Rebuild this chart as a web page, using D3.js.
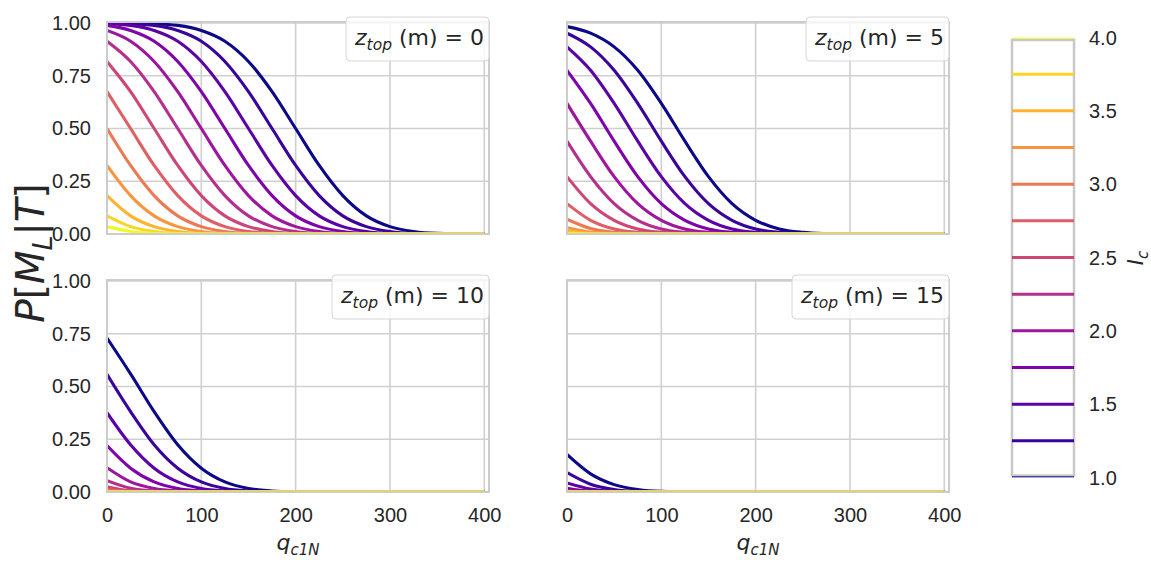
<!DOCTYPE html>
<html>
<head>
<meta charset="utf-8">
<script src="https://cdn.jsdelivr.net/npm/d3@7/dist/d3.min.js"></script>
<style>
  body { margin: 0; background: #fff; }
  svg { font-family: "Liberation Sans", Arial, sans-serif; }
  .math { font-family: "DejaVu Sans", sans-serif; font-style: italic; }
</style>
</head>
<body>
<svg width="1151" height="562"></svg>
<script>
// q_c1N sample points shared by every curve
var qGrid = [0, 25, 50, 75, 100, 125, 150, 175, 200, 225, 250, 275, 300, 325, 350, 375, 400];
var icLevels = [1.0, 1.25, 1.5, 1.75, 2.0, 2.25, 2.5, 2.75, 3.0, 3.25, 3.5, 3.75, 4.0];
var zTop = [0, 5, 10, 15];
var xTicks = [0, 100, 200, 300, 400];
var yTicks = [0, 0.25, 0.5, 0.75, 1.0];
var cbTicks = [1.0, 1.5, 2.0, 2.5, 3.0, 3.5, 4.0];

// P[M_L|T], one row per I_c level
var pZ0 = [
  [1.000, 0.999, 0.997, 0.989, 0.965, 0.914, 0.818, 0.675, 0.500, 0.325, 0.182, 0.086, 0.035, 0.012, 0.003, 0.001, 0],
  [0.999, 0.997, 0.989, 0.965, 0.914, 0.818, 0.675, 0.500, 0.325, 0.182, 0.086, 0.035, 0.012, 0.003, 0.001, 0, 0],
  [0.997, 0.989, 0.965, 0.914, 0.818, 0.675, 0.500, 0.325, 0.182, 0.086, 0.035, 0.012, 0.003, 0.001, 0, 0, 0],
  [0.989, 0.965, 0.914, 0.818, 0.675, 0.500, 0.325, 0.182, 0.086, 0.035, 0.012, 0.003, 0.001, 0, 0, 0, 0],
  [0.965, 0.914, 0.818, 0.675, 0.500, 0.325, 0.182, 0.086, 0.035, 0.012, 0.003, 0.001, 0, 0, 0, 0, 0],
  [0.914, 0.818, 0.675, 0.500, 0.325, 0.182, 0.086, 0.035, 0.012, 0.003, 0.001, 0, 0, 0, 0, 0, 0],
  [0.818, 0.675, 0.500, 0.325, 0.182, 0.086, 0.035, 0.012, 0.003, 0.001, 0, 0, 0, 0, 0, 0, 0],
  [0.675, 0.500, 0.325, 0.182, 0.086, 0.035, 0.012, 0.003, 0.001, 0, 0, 0, 0, 0, 0, 0, 0],
  [0.500, 0.325, 0.182, 0.086, 0.035, 0.012, 0.003, 0.001, 0, 0, 0, 0, 0, 0, 0, 0, 0],
  [0.325, 0.182, 0.086, 0.035, 0.012, 0.003, 0.001, 0, 0, 0, 0, 0, 0, 0, 0, 0, 0],
  [0.182, 0.086, 0.035, 0.012, 0.003, 0.001, 0, 0, 0, 0, 0, 0, 0, 0, 0, 0, 0],
  [0.086, 0.035, 0.012, 0.003, 0.001, 0, 0, 0, 0, 0, 0, 0, 0, 0, 0, 0, 0],
  [0.035, 0.012, 0.003, 0.001, 0, 0, 0, 0, 0, 0, 0, 0, 0, 0, 0, 0, 0]
];
var pZ5 = [
  [0.983, 0.952, 0.887, 0.776, 0.619, 0.440, 0.272, 0.144, 0.065, 0.024, 0.008, 0.002, 0, 0, 0, 0, 0],
  [0.952, 0.887, 0.776, 0.619, 0.440, 0.272, 0.144, 0.065, 0.024, 0.008, 0.002, 0, 0, 0, 0, 0, 0],
  [0.887, 0.776, 0.619, 0.440, 0.272, 0.144, 0.065, 0.024, 0.008, 0.002, 0, 0, 0, 0, 0, 0, 0],
  [0.776, 0.619, 0.440, 0.272, 0.144, 0.065, 0.024, 0.008, 0.002, 0, 0, 0, 0, 0, 0, 0, 0],
  [0.619, 0.440, 0.272, 0.144, 0.065, 0.024, 0.008, 0.002, 0, 0, 0, 0, 0, 0, 0, 0, 0],
  [0.440, 0.272, 0.144, 0.065, 0.024, 0.008, 0.002, 0, 0, 0, 0, 0, 0, 0, 0, 0, 0],
  [0.272, 0.144, 0.065, 0.024, 0.008, 0.002, 0, 0, 0, 0, 0, 0, 0, 0, 0, 0, 0],
  [0.144, 0.065, 0.024, 0.008, 0.002, 0, 0, 0, 0, 0, 0, 0, 0, 0, 0, 0, 0],
  [0.070, 0.026, 0.008, 0.002, 0, 0, 0, 0, 0, 0, 0, 0, 0, 0, 0, 0, 0],
  [0.030, 0.009, 0.002, 0, 0, 0, 0, 0, 0, 0, 0, 0, 0, 0, 0, 0, 0],
  [0.014, 0.003, 0, 0, 0, 0, 0, 0, 0, 0, 0, 0, 0, 0, 0, 0, 0],
  [0.005, 0.001, 0, 0, 0, 0, 0, 0, 0, 0, 0, 0, 0, 0, 0, 0, 0],
  [0.001, 0, 0, 0, 0, 0, 0, 0, 0, 0, 0, 0, 0, 0, 0, 0, 0]
];
var pZ10 = [
  [0.730, 0.560, 0.381, 0.224, 0.113, 0.048, 0.017, 0.005, 0.001, 0, 0, 0, 0, 0, 0, 0, 0],
  [0.558, 0.381, 0.224, 0.113, 0.048, 0.017, 0.005, 0.001, 0, 0, 0, 0, 0, 0, 0, 0, 0],
  [0.376, 0.224, 0.113, 0.048, 0.017, 0.005, 0.001, 0, 0, 0, 0, 0, 0, 0, 0, 0, 0],
  [0.220, 0.113, 0.048, 0.017, 0.005, 0.001, 0, 0, 0, 0, 0, 0, 0, 0, 0, 0, 0],
  [0.115, 0.048, 0.017, 0.005, 0.001, 0, 0, 0, 0, 0, 0, 0, 0, 0, 0, 0, 0],
  [0.054, 0.018, 0.005, 0.001, 0, 0, 0, 0, 0, 0, 0, 0, 0, 0, 0, 0, 0],
  [0.025, 0.006, 0.001, 0, 0, 0, 0, 0, 0, 0, 0, 0, 0, 0, 0, 0, 0],
  [0.012, 0.002, 0, 0, 0, 0, 0, 0, 0, 0, 0, 0, 0, 0, 0, 0, 0],
  [0.004, 0.001, 0, 0, 0, 0, 0, 0, 0, 0, 0, 0, 0, 0, 0, 0, 0],
  [0.001, 0, 0, 0, 0, 0, 0, 0, 0, 0, 0, 0, 0, 0, 0, 0, 0],
  [0, 0, 0, 0, 0, 0, 0, 0, 0, 0, 0, 0, 0, 0, 0, 0, 0],
  [0, 0, 0, 0, 0, 0, 0, 0, 0, 0, 0, 0, 0, 0, 0, 0, 0],
  [0, 0, 0, 0, 0, 0, 0, 0, 0, 0, 0, 0, 0, 0, 0, 0, 0]
];
var pZ15 = [
  [0.178, 0.086, 0.035, 0.012, 0.003, 0.001, 0, 0, 0, 0, 0, 0, 0, 0, 0, 0, 0],
  [0.092, 0.037, 0.012, 0.003, 0.001, 0, 0, 0, 0, 0, 0, 0, 0, 0, 0, 0, 0],
  [0.043, 0.014, 0.003, 0.001, 0, 0, 0, 0, 0, 0, 0, 0, 0, 0, 0, 0, 0],
  [0.018, 0.004, 0.001, 0, 0, 0, 0, 0, 0, 0, 0, 0, 0, 0, 0, 0, 0],
  [0.007, 0.001, 0, 0, 0, 0, 0, 0, 0, 0, 0, 0, 0, 0, 0, 0, 0],
  [0.002, 0, 0, 0, 0, 0, 0, 0, 0, 0, 0, 0, 0, 0, 0, 0, 0],
  [0, 0, 0, 0, 0, 0, 0, 0, 0, 0, 0, 0, 0, 0, 0, 0, 0],
  [0, 0, 0, 0, 0, 0, 0, 0, 0, 0, 0, 0, 0, 0, 0, 0, 0],
  [0, 0, 0, 0, 0, 0, 0, 0, 0, 0, 0, 0, 0, 0, 0, 0, 0],
  [0, 0, 0, 0, 0, 0, 0, 0, 0, 0, 0, 0, 0, 0, 0, 0, 0],
  [0, 0, 0, 0, 0, 0, 0, 0, 0, 0, 0, 0, 0, 0, 0, 0, 0],
  [0, 0, 0, 0, 0, 0, 0, 0, 0, 0, 0, 0, 0, 0, 0, 0, 0],
  [0, 0, 0, 0, 0, 0, 0, 0, 0, 0, 0, 0, 0, 0, 0, 0, 0]
];

var svg = d3.select("svg");
var W = 382, H = 212;
var textColor = "#262626";
var gridColor = "#d0d0d0";

var xScale = d3.scaleLinear().domain([0, 405]).range([0, W]);
var yScale = d3.scaleLinear().domain([0, 1.005]).range([H, 0]);
var icColor = function (v) { return d3.interpolatePlasma((v - 1) / 3); };

var line = d3.line()
  .x(function (d) { return xScale(d[0]); })
  .y(function (d) { return yScale(d[1]); })
  .curve(d3.curveMonotoneX);

var panels = [
  { z: zTop[0], vals: pZ0, left: 107, top: 22, xlab: false, ylab: true },
  { z: zTop[1], vals: pZ5, left: 567, top: 22, xlab: false, ylab: false },
  { z: zTop[2], vals: pZ10, left: 107, top: 280, xlab: true, ylab: true },
  { z: zTop[3], vals: pZ15, left: 567, top: 280, xlab: true, ylab: false }
];

var defs = svg.append("defs");
defs.append("clipPath").attr("id", "plotClip")
  .append("rect").attr("width", W).attr("height", H);

panels.forEach(function (p) {
  var g = svg.append("g").attr("transform", "translate(" + p.left + "," + p.top + ")");

  // grid
  g.selectAll("line.gx").data(xTicks).enter().append("line")
    .attr("x1", function (d) { return xScale(d); })
    .attr("x2", function (d) { return xScale(d); })
    .attr("y1", 0).attr("y2", H)
    .style("stroke", gridColor).style("stroke-width", 1.6);
  g.selectAll("line.gy").data(yTicks).enter().append("line")
    .attr("y1", function (d) { return yScale(d); })
    .attr("y2", function (d) { return yScale(d); })
    .attr("x1", 0).attr("x2", W)
    .style("stroke", gridColor).style("stroke-width", 1.6);

  // curves, lowest I_c first so yellow sits on top
  var curves = g.append("g").attr("clip-path", "url(#plotClip)");
  p.vals.forEach(function (row, k) {
    var pts = qGrid.map(function (q, j) { return [q, row[j]]; });
    curves.append("path")
      .attr("d", line(pts))
      .style("fill", "none")
      .style("stroke", icColor(icLevels[k]))
      .style("stroke-width", 3.1)
      .style("stroke-linejoin", "round");
  });

  // frame
  g.append("rect").attr("width", W).attr("height", H)
    .style("fill", "none").style("stroke", "#cccccc").style("stroke-width", 2);

  if (p.ylab) {
    var ya = g.append("g").call(d3.axisLeft(yScale).tickValues(yTicks)
      .tickFormat(d3.format(".2f")).tickSize(0).tickPadding(16));
    ya.select(".domain").remove();
    ya.selectAll("text").style("font-size", "20px").style("fill", textColor)
      .style("font-family", "Liberation Sans, Arial, sans-serif");
  }
  if (p.xlab) {
    var xa = g.append("g").attr("transform", "translate(0," + H + ")")
      .call(d3.axisBottom(xScale).tickValues(xTicks).tickSize(0).tickPadding(16));
    xa.select(".domain").remove();
    xa.selectAll("text").style("font-size", "20px").style("fill", textColor)
      .style("font-family", "Liberation Sans, Arial, sans-serif");

    var xl = g.append("text").attr("x", W / 2).attr("y", H + 58)
      .attr("text-anchor", "middle").style("fill", textColor).style("font-size", "22px");
    xl.append("tspan").attr("class", "math").text("q");
    xl.append("tspan").attr("class", "math").attr("dy", 5).style("font-size", "15px").text("c1N");
  }

  // legend box
  var lg = g.append("g");
  var boxTop = -5;
  var lt = lg.append("text").attr("x", W - 5).attr("y", boxTop + 28)
    .attr("text-anchor", "end").style("fill", textColor).style("font-size", "22px")
    .style("font-family", "DejaVu Sans, sans-serif");
  lt.append("tspan").attr("class", "math").text("z");
  lt.append("tspan").attr("class", "math").attr("dy", 5).style("font-size", "15.5px").text("top");
  lt.append("tspan").attr("dy", -5).text(" (m) = " + p.z);
  var bb = lt.node().getBBox();
  lg.insert("rect", "text")
    .attr("x", bb.x - 8).attr("y", boxTop)
    .attr("width", W - (bb.x - 8)).attr("height", 44)
    .attr("rx", 4)
    .style("fill", "#fff").style("fill-opacity", 0.8)
    .style("stroke", "#d6d6d6").style("stroke-width", 1);
});

// y label
var yl = svg.append("text")
  .attr("transform", "translate(44,253) rotate(-90)")
  .attr("text-anchor", "middle").style("fill", textColor).style("font-size", "39px")
  .style("font-family", "DejaVu Sans, sans-serif");
yl.append("tspan").style("font-style", "italic").text("P");
yl.append("tspan").text("[");
yl.append("tspan").style("font-style", "italic").text("M");
yl.append("tspan").style("font-style", "italic").attr("dy", 8).style("font-size", "27px").text("L");
yl.append("tspan").attr("dy", -8).text("|");
yl.append("tspan").style("font-style", "italic").text("T");
yl.append("tspan").text("]");

// colorbar: outline sits just inside the end levels, lines drawn over it
var cbLeft = 1012, cbRight = 1074;
var cbScale = d3.scaleLinear().domain([1, 4]).range([477.5, 37.5]);
defs.append("clipPath").attr("id", "cbClip")
  .append("rect").attr("x", cbLeft - 1).attr("y", 37.5).attr("width", cbRight - cbLeft + 1).attr("height", 440);
svg.append("rect").attr("x", cbLeft).attr("y", 40).attr("width", cbRight - cbLeft).attr("height", 435.5)
  .style("fill", "#fff").style("stroke", "#c8c8c8").style("stroke-width", 2.5);
svg.append("g").attr("clip-path", "url(#cbClip)")
  .selectAll("line").data(icLevels).enter().append("line")
  .attr("x1", cbLeft).attr("x2", cbRight)
  .attr("y1", function (d) { return cbScale(d); })
  .attr("y2", function (d) { return cbScale(d); })
  .style("stroke", function (d) { return icColor(d); })
  .style("stroke-opacity", function (d, i) { return (i === 0 || i === icLevels.length - 1) ? 0.7 : 1; })
  .style("stroke-width", 3);
svg.append("g").selectAll("text").data(cbTicks).enter().append("text")
  .attr("x", 1089)
  .attr("y", function (d) { return cbScale(d); })
  .attr("dy", "0.36em")
  .style("font-size", "20px").style("fill", textColor)
  .text(function (d) { return d3.format(".1f")(d); });

var cl = svg.append("text")
  .attr("transform", "translate(1143,258) rotate(-90)")
  .attr("text-anchor", "middle").style("fill", textColor).style("font-size", "21px");
cl.append("tspan").attr("class", "math").text("I");
cl.append("tspan").attr("class", "math").attr("dy", 5).style("font-size", "15px").text("c");
</script>
</body>
</html>
